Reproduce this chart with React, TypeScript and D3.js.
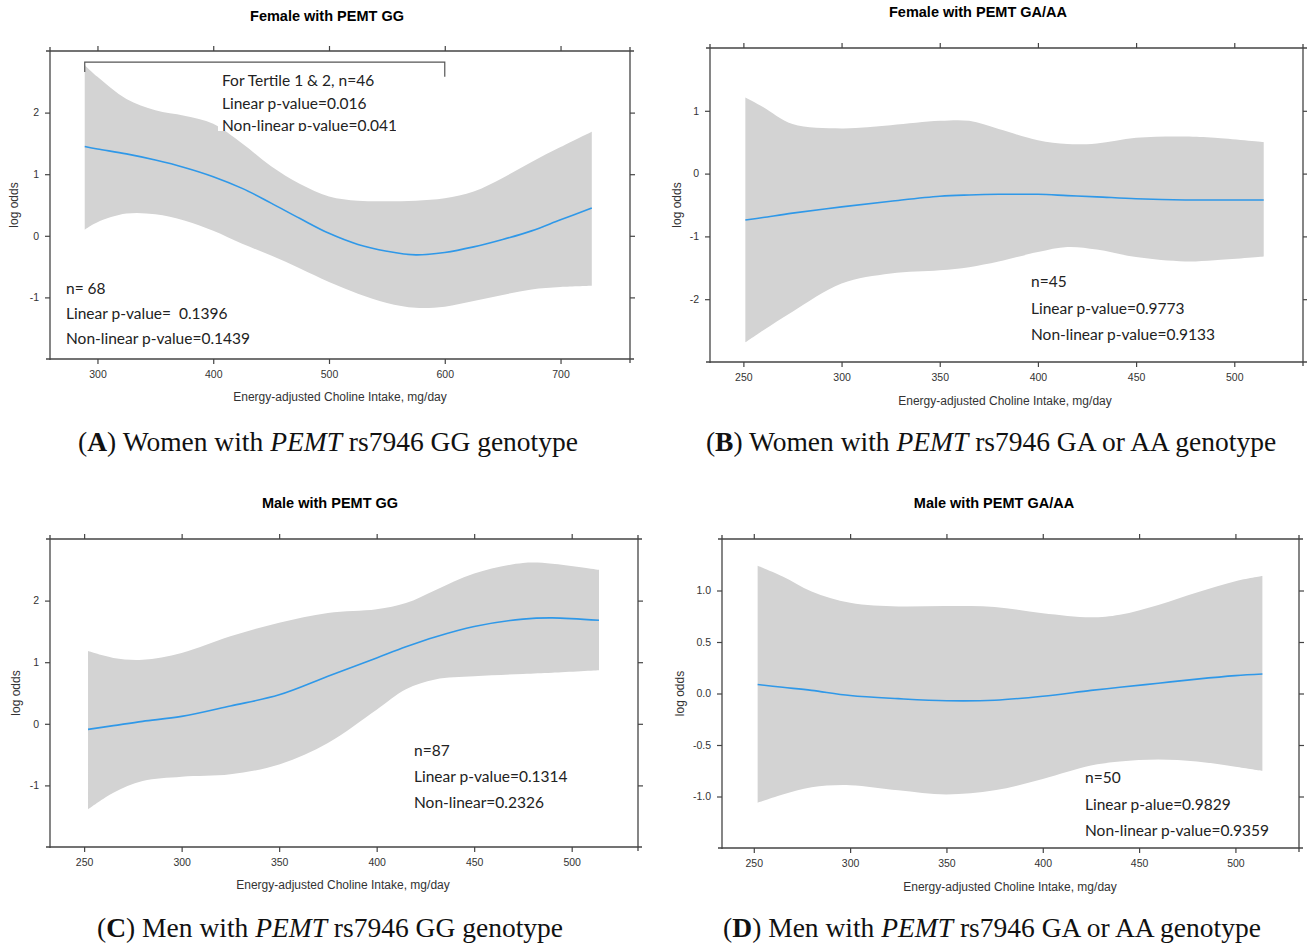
import React, { useEffect, useRef } from "react";
import * as d3 from "d3";

const W = 1307, H = 944;

// Panel A: women, PEMT GG
const aX = [289, 300, 325, 350, 375, 400, 425, 450, 475, 500, 525, 550, 575, 600, 625, 650, 675, 700, 727];
const aFit = [1.45, 1.41, 1.33, 1.23, 1.11, 0.96, 0.77, 0.53, 0.28, 0.04, -0.14, -0.25, -0.31, -0.27, -0.18, -0.06, 0.08, 0.26, 0.45];
const aUpper = [2.77, 2.58, 2.22, 2.04, 1.95, 1.82, 1.5, 1.13, 0.84, 0.64, 0.57, 0.56, 0.57, 0.61, 0.72, 0.94, 1.2, 1.44, 1.69];
const aLower = [0.1, 0.22, 0.36, 0.35, 0.25, 0.08, -0.13, -0.32, -0.53, -0.75, -0.94, -1.09, -1.17, -1.15, -1.06, -0.96, -0.87, -0.83, -0.81];
const aXTicks = [300, 400, 500, 600, 700];
const aYTicks = [-1, 0, 1, 2];
const aNotes = ["n= 68", "Linear p-value=  0.1396", "Non-linear p-value=0.1439"];
const aTertileNotes = ["For Tertile 1 & 2, n=46", "Linear p-value=0.016", "Non-linear p-value=0.041"];
const aBracket = [289, 600]; // tertile 1 & 2 range, mg/day

// Panel B: women, PEMT GA/AA
const bX = [251, 260, 275, 300, 325, 350, 365, 380, 400, 415, 430, 450, 475, 490, 515];
const bFit = [-0.74, -0.7, -0.63, -0.53, -0.44, -0.36, -0.34, -0.33, -0.33, -0.35, -0.37, -0.4, -0.42, -0.42, -0.42];
const bUpper = [1.21, 1.06, 0.79, 0.72, 0.77, 0.84, 0.84, 0.71, 0.53, 0.47, 0.48, 0.57, 0.59, 0.57, 0.5];
const bLower = [-2.69, -2.5, -2.2, -1.75, -1.59, -1.54, -1.49, -1.4, -1.25, -1.17, -1.21, -1.33, -1.4, -1.38, -1.32];
const bXTicks = [250, 300, 350, 400, 450, 500];
const bYTicks = [-2, -1, 0, 1];
const bNotes = ["n=45", "Linear p-value=0.9773", "Non-linear p-value=0.9133"];

// Panel C: men, PEMT GG
const cX = [252, 265, 280, 300, 325, 350, 375, 400, 415, 430, 450, 475, 490, 514];
const cFit = [-0.09, -0.03, 0.04, 0.12, 0.29, 0.47, 0.77, 1.07, 1.25, 1.41, 1.58, 1.7, 1.72, 1.68];
const cUpper = [1.18, 1.07, 1.04, 1.15, 1.42, 1.64, 1.8, 1.86, 1.96, 2.17, 2.44, 2.61, 2.6, 2.5];
const cLower = [-1.39, -1.12, -0.93, -0.86, -0.82, -0.66, -0.31, 0.23, 0.56, 0.72, 0.77, 0.81, 0.83, 0.87];
const cXTicks = [250, 300, 350, 400, 450, 500];
const cYTicks = [-1, 0, 1, 2];
const cNotes = ["n=87", "Linear p-value=0.1314", "Non-linear=0.2326"];

// Panel D: men, PEMT GA/AA
const dX = [252, 265, 280, 300, 325, 350, 375, 400, 425, 440, 460, 480, 500, 514];
const dFit = [0.087, 0.06, 0.03, -0.02, -0.05, -0.07, -0.065, -0.026, 0.03, 0.06, 0.1, 0.14, 0.174, 0.19];
const dUpper = [1.24, 1.135, 0.99, 0.88, 0.845, 0.85, 0.84, 0.78, 0.74, 0.765, 0.86, 0.98, 1.09, 1.14];
const dLower = [-1.06, -0.98, -0.91, -0.89, -0.94, -0.98, -0.94, -0.83, -0.7, -0.66, -0.64, -0.66, -0.71, -0.75];
const dXTicks = [250, 300, 350, 400, 450, 500];
const dYTicks = [-1, -0.5, 0, 0.5, 1];
const dNotes = ["n=50", "Linear p-alue=0.9829", "Non-linear p-value=0.9359"];

const titles = ["Female with PEMT GG", "Female with PEMT GA/AA", "Male with PEMT GG", "Male with PEMT GA/AA"];
const captionLetters = ["A", "B", "C", "D"];
const captionPre = [") Women with ", ") Women with ", ") Men with ", ") Men with "];
const captionPost = [" rs7946 GG genotype", " rs7946 GA or AA genotype", " rs7946 GG genotype", " rs7946 GA or AA genotype"];
const xLabel = "Energy-adjusted Choline Intake, mg/day";
const yLabel = "log odds";

const tickFont = "'Liberation Sans Narrow', 'Arial Narrow', 'Liberation Sans', Arial, sans-serif";
const sans = "'Liberation Sans', Arial, sans-serif";
const noteFont = "Lato, 'Open Sans', sans-serif";
const serif = "'Liberation Serif', 'Times New Roman', serif";
const axisColor = "#444";

const panels = [
  {
    xs: aX, fit: aFit, upper: aUpper, lower: aLower, xTicks: aXTicks, yTicks: aYTicks,
    xDomain: [259, 760], yDomain: [-2, 3], left: 50, right: 630, top: 51, bottom: 359,
    title: titles[0], titleX: 327, titleY: 21, yLabX: 18, xLabY: 401, xLabX: 340,
    notes: aNotes, noteX: 66, noteY: 294, noteGap: 25, fmt: (d) => String(d),
    capX: 328, capY: 451,
  },
  {
    xs: bX, fit: bFit, upper: bUpper, lower: bLower, xTicks: bXTicks, yTicks: bYTicks,
    xDomain: [233, 535], yDomain: [-3, 2], left: 710, right: 1303, top: 48, bottom: 362,
    title: titles[1], titleX: 978, titleY: 17, yLabX: 681, xLabY: 405, xLabX: 1005,
    notes: bNotes, noteX: 1031, noteY: 287, noteGap: 26.5, fmt: (d) => String(d),
    capX: 991, capY: 451,
  },
  {
    xs: cX, fit: cFit, upper: cUpper, lower: cLower, xTicks: cXTicks, yTicks: cYTicks,
    xDomain: [232.5, 534], yDomain: [-2, 3], left: 50, right: 638, top: 539, bottom: 847,
    title: titles[2], titleX: 330, titleY: 508, yLabX: 20, xLabY: 889, xLabX: 343,
    notes: cNotes, noteX: 414, noteY: 756, noteGap: 26, fmt: (d) => String(d),
    capX: 330, capY: 937,
  },
  {
    xs: dX, fit: dFit, upper: dUpper, lower: dLower, xTicks: dXTicks, yTicks: dYTicks,
    xDomain: [233.5, 533], yDomain: [-1.5, 1.5], left: 722, right: 1299, top: 539, bottom: 848,
    title: titles[3], titleX: 994, titleY: 508, yLabX: 684, xLabY: 891, xLabX: 1010,
    notes: dNotes, noteX: 1085, noteY: 783, noteGap: 26.5, fmt: (d) => d.toFixed(1),
    capX: 992, capY: 937,
  },
];

function Panel({ p, idx }) {
  const axRef = useRef(null);
  const x = d3.scaleLinear().domain(p.xDomain).range([p.left, p.right]);
  const y = d3.scaleLinear().domain(p.yDomain).range([p.bottom, p.top]);

  useEffect(() => {
    const g = d3.select(axRef.current);
    g.selectAll("*").remove();
    const style = (sel) => {
      sel.select(".domain").remove();
      sel.selectAll("line").attr("stroke", axisColor).attr("stroke-width", 1.2);
      sel.selectAll("text").attr("font-family", tickFont).attr("font-size", 10.5).attr("fill", "#333");
    };
    g.append("g").attr("transform", `translate(0,${p.bottom})`)
      .call(d3.axisBottom(x).tickValues(p.xTicks).tickSize(5).tickSizeOuter(0).tickPadding(7).tickFormat((d) => String(d)))
      .call(style);
    g.append("g").attr("transform", `translate(0,${p.top})`)
      .call(d3.axisTop(x).tickValues(p.xTicks).tickSize(5).tickSizeOuter(0).tickFormat(() => ""))
      .call(style);
    g.append("g").attr("transform", `translate(${p.left},0)`)
      .call(d3.axisLeft(y).tickValues(p.yTicks).tickSize(5).tickSizeOuter(0).tickPadding(6).tickFormat(p.fmt))
      .call(style);
    g.append("g").attr("transform", `translate(${p.right},0)`)
      .call(d3.axisRight(y).tickValues(p.yTicks).tickSize(5).tickSizeOuter(0).tickFormat(() => ""))
      .call(style);
  });

  const idxs = p.xs.map((_, i) => i);
  const area = d3.area()
    .x((i) => x(p.xs[i]))
    .y0((i) => y(p.lower[i]))
    .y1((i) => y(p.upper[i]))
    .curve(d3.curveCatmullRom.alpha(0.5));
  const line = d3.line()
    .x((i) => x(p.xs[i]))
    .y((i) => y(p.fit[i]))
    .curve(d3.curveCatmullRom.alpha(0.5));

  const ext = 4;
  const cy = (p.top + p.bottom) / 2;

  return (
    <g>
      <text x={p.titleX} y={p.titleY} textAnchor="middle" fontFamily={sans} fontWeight="bold" fontSize={14.5} fill="#000">
        {p.title}
      </text>
      <path d={area(idxs)} fill="#d3d3d3" stroke="none" />
      <path d={line(idxs)} fill="none" stroke="#2f98e8" strokeWidth={1.6} />

      {idx === 0 && (
        <g>
          <path
            d={`M${x(aBracket[0])},${y(2.66)}V${y(2.82)}H${x(aBracket[1])}V${y(2.58)}`}
            fill="none" stroke="#555" strokeWidth={1.2}
          />
          <defs>
            <clipPath id="tertBox">
              <rect x={218} y={66} width={178} height={65} />
            </clipPath>
          </defs>
          <rect x={218} y={66} width={178} height={65} fill="#fff" />
          <g clipPath="url(#tertBox)">
            {aTertileNotes.map((t, i) => (
              <text key={i} x={222} y={86 + i * 22.5} fontFamily={noteFont} fontSize={15.5} fill="#222">{t}</text>
            ))}
          </g>
        </g>
      )}

      {p.notes.map((t, i) => (
        <text key={i} x={p.noteX} y={p.noteY + i * p.noteGap} fontFamily={noteFont} fontSize={15.5} fill="#222" style={{ whiteSpace: "pre" }}>
          {t}
        </text>
      ))}

      <g stroke={axisColor} strokeWidth={1.3}>
        <line x1={p.left - ext} x2={p.right + ext} y1={p.top} y2={p.top} />
        <line x1={p.left - ext} x2={p.right + ext} y1={p.bottom} y2={p.bottom} />
        <line x1={p.left} x2={p.left} y1={p.top - ext} y2={p.bottom + 1} />
        <line x1={p.right} x2={p.right} y1={p.top - ext} y2={p.bottom + ext} />
      </g>
      <g ref={axRef} />

      <text x={p.xLabX} y={p.xLabY} textAnchor="middle" fontFamily={sans} fontSize={12} fill="#333">{xLabel}</text>
      <text transform={`translate(${p.yLabX},${cy}) rotate(-90)`} textAnchor="middle" fontFamily={sans} fontSize={12} fill="#333">{yLabel}</text>

      <text x={p.capX} y={p.capY} textAnchor="middle" fontFamily={serif} fontSize={27.5} fill="#111">
        <tspan>(</tspan>
        <tspan fontWeight="bold">{captionLetters[idx]}</tspan>
        <tspan style={{ whiteSpace: "pre" }}>{captionPre[idx]}</tspan>
        <tspan fontStyle="italic">PEMT</tspan>
        <tspan style={{ whiteSpace: "pre" }}>{captionPost[idx]}</tspan>
      </text>
    </g>
  );
}

export default function App() {
  return (
    <svg width={W} height={H} style={{ position: "absolute", left: 0, top: 0, background: "#fff" }}>
      <rect width={W} height={H} fill="#fff" />
      {panels.map((p, i) => (
        <Panel key={i} p={p} idx={i} />
      ))}
    </svg>
  );
}
